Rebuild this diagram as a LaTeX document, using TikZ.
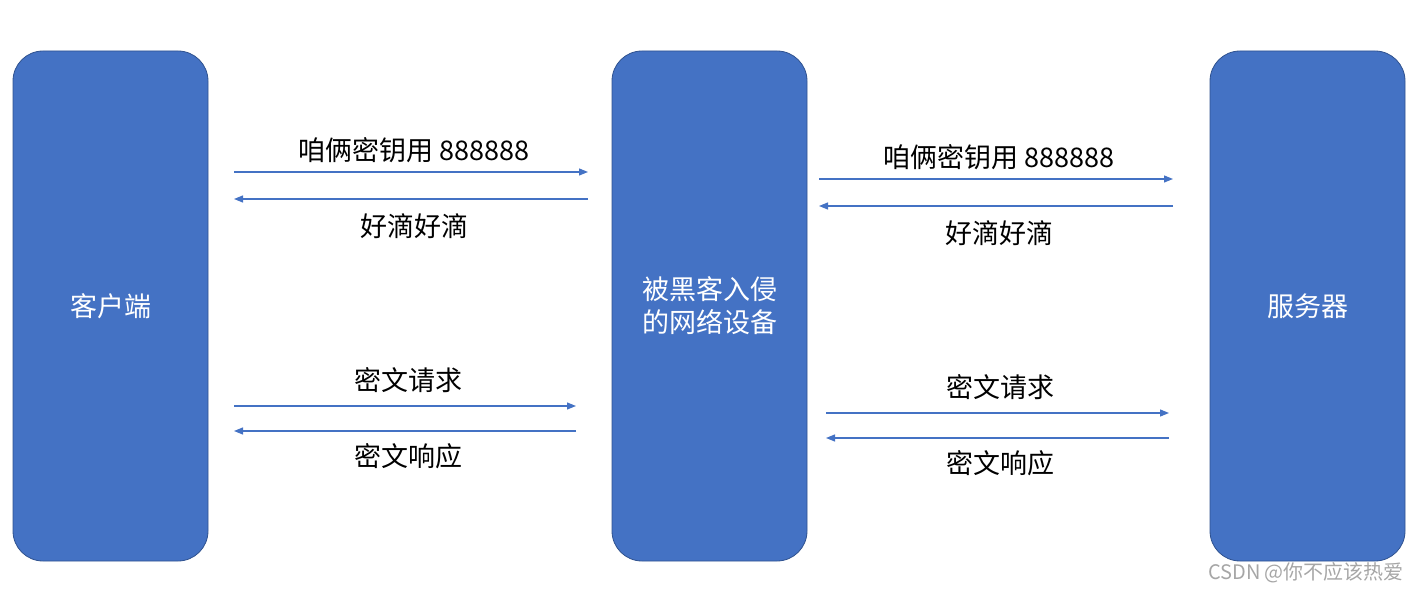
\documentclass[tikz,border=0pt]{standalone}
\usepackage{fontspec}
\setmainfont{Noto Sans CJK SC}
\usepackage{tikz}
\usetikzlibrary{arrows.meta,positioning}

\definecolor{boxblue}{HTML}{4472C4}
\definecolor{boxedge}{HTML}{2F528F}
\definecolor{markgray}{HTML}{A6A6A6}

\tikzset{
  device/.style={rectangle, rounded corners=30pt, fill=boxblue, draw=boxedge, line width=0.8pt,
    minimum width=195pt, minimum height=510pt, text=white, align=center,
    font=\fontsize{27}{33}\selectfont},
  msg/.style={draw=boxblue, line width=1.2pt, -{Triangle[length=9pt,width=7pt]}},
  msglabel/.style={font=\fontsize{27}{30}\selectfont, text=black, xshift=3pt}
}

\begin{document}
\begin{tikzpicture}[x=1pt,y=-1pt]
        \useasboundingbox (0,0) rectangle (1416,593);

        \node[device] (client) at (110.5,306) {客户端};
        \node[device] (hacker) at (709.5,306) {被黑客入侵\\的网络设备};
        \node[device] (server) at (1307.5,306) {服务器};

        % client <-> hacker
        \coordinate (l1a) at (234,172); \coordinate (l1b) at (588,172);
        \coordinate (l2a) at (234,199); \coordinate (l2b) at (588,199);
        \coordinate (l3a) at (234,406); \coordinate (l3b) at (576,406);
        \coordinate (l4a) at (234,431); \coordinate (l4b) at (576,431);

        \draw[msg] (l1a) -- (l1b) node[midway, above=5pt, msglabel] {咱俩密钥用 888888};
        \draw[msg] (l2b) -- (l2a) node[midway, below=11pt, msglabel] {好滴好滴};
        \draw[msg] (l3a) -- (l3b) node[midway, above=9pt, msglabel] {密文请求};
        \draw[msg] (l4b) -- (l4a) node[midway, below=9pt, msglabel] {密文响应};

        % hacker <-> server
        \coordinate (r1a) at (819,179); \coordinate (r1b) at (1173,179);
        \coordinate (r2a) at (819,206); \coordinate (r2b) at (1173,206);
        \coordinate (r3a) at (826,413); \coordinate (r3b) at (1169,413);
        \coordinate (r4a) at (826,438); \coordinate (r4b) at (1169,438);

        \draw[msg] (r1a) -- (r1b) node[midway, above=5pt, msglabel] {咱俩密钥用 888888};
        \draw[msg] (r2b) -- (r2a) node[midway, below=11pt, msglabel] {好滴好滴};
        \draw[msg] (r3a) -- (r3b) node[midway, above=9pt, msglabel] {密文请求};
        \draw[msg] (r4b) -- (r4a) node[midway, below=9pt, msglabel] {密文响应};

        \node[text=markgray, font=\fontsize{20}{24}\selectfont] (mark) at (1306,573) {CSDN @你不应该热爱};
\end{tikzpicture}
\end{document}
